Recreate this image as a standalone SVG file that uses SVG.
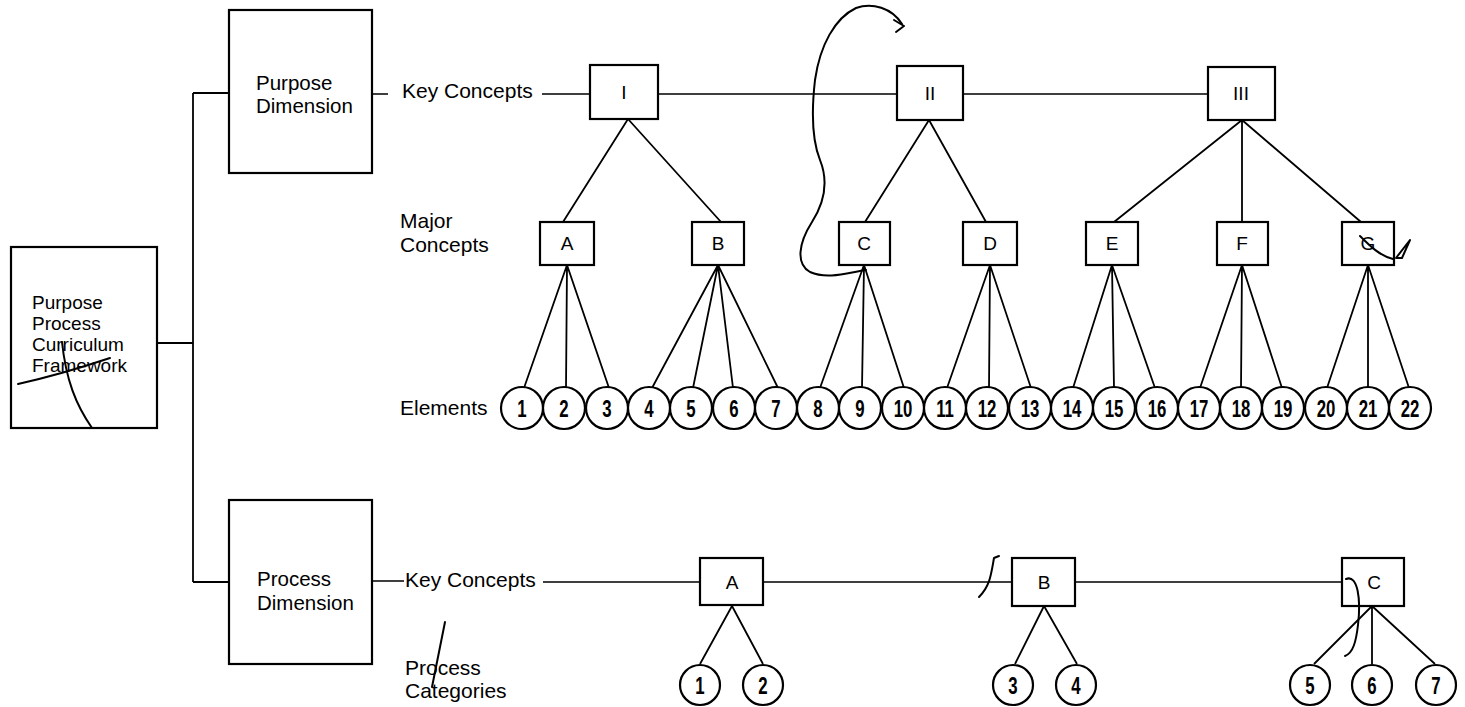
<svg xmlns="http://www.w3.org/2000/svg" width="1465" height="707" viewBox="0 0 1465 707">
<style>
.box{fill:#fff;stroke:#000;stroke-width:2.2}
.ln{fill:none;stroke:#000;stroke-width:1.8}
.thin{fill:none;stroke:#000;stroke-width:1.4}
.cir{fill:#fff;stroke:#000;stroke-width:2.2}
.lbl{font-family:"Liberation Sans",Arial,sans-serif;font-size:21px;fill:#000}
.bx{font-family:"Liberation Sans",Arial,sans-serif;font-size:20.5px;fill:#000}
.fw{font-family:"Liberation Sans",Arial,sans-serif;font-size:19px;fill:#000}
.num{font-family:"Liberation Sans",Arial,sans-serif;font-size:24px;font-weight:bold;fill:#000;text-anchor:middle}
.ltr{font-family:"Liberation Sans",Arial,sans-serif;font-size:19px;fill:#000;text-anchor:middle}
.pen{fill:none;stroke:#000;stroke-width:2;stroke-linecap:round;stroke-linejoin:round}
</style>
<rect width="1465" height="707" fill="#fff"/>

<g id="connectors">
  <path class="ln" d="M157,343 H193 M193,93 V582 M193,93 H229 M193,582 H229"/>
  <path class="thin" d="M372,94 H388 M542,94 H590 M658,94 H897 M963,94 H1208"/>
  <path class="ln" d="M628,119 L563,222 M628,119 L721,222"/>
  <path class="ln" d="M929,120 L865,222 M929,120 L986,222"/>
  <path class="ln" d="M1242,120 L1114,222 M1242,120 V222 M1242,120 L1361,222"/>
  <path class="ln" d="M567,265 L524,388 M567,265 L566,388 M567,265 L609,388"/>
  <path class="ln" d="M718,265 L652,388 M718,265 L693,388 M718,265 L733,388 M718,265 L778,388"/>
  <path class="ln" d="M864,265 L820,388 M864,265 L862,388 M864,265 L904,388"/>
  <path class="ln" d="M990,265 L947,388 M990,265 L989,388 M990,265 L1031,388"/>
  <path class="ln" d="M1112,265 L1073,388 M1112,265 L1114,388 M1112,265 L1155,388"/>
  <path class="ln" d="M1242,265 L1200,388 M1242,265 L1241,388 M1242,265 L1282,388"/>
  <path class="ln" d="M1368,265 L1327,388 M1368,265 L1368,388 M1368,265 L1409,388"/>
  <path class="thin" d="M372,581 H404 M543,582 H700 M763,582 H1012 M1075,582 H1342"/>
  <path class="ln" d="M732,606 L700,664 M732,606 L763,664"/>
  <path class="ln" d="M1044,606 L1015,664 M1044,606 L1077,664"/>
  <path class="ln" d="M1372,606 L1314,664 M1372,606 V664 M1372,606 L1435,664"/>
</g>

<g id="framework">
  <rect class="box" x="11" y="247" width="146" height="181"/>
  <text class="fw" x="32" y="309">Purpose</text>
  <text class="fw" x="32" y="330">Process</text>
  <text class="fw" x="32" y="351">Curriculum</text>
  <text class="fw" x="32" y="372">Framework</text>
</g>

<g id="purpose-dimension">
  <rect class="box" x="229" y="10" width="143" height="163"/>
  <text class="bx" x="256" y="90">Purpose</text>
  <text class="bx" x="256" y="113">Dimension</text>
</g>

<g id="process-dimension">
  <rect class="box" x="229" y="500" width="143" height="164"/>
  <text class="bx" x="257" y="586">Process</text>
  <text class="bx" x="257" y="610">Dimension</text>
</g>

<g id="labels">
  <text class="lbl" x="402" y="98">Key Concepts</text>
  <text class="lbl" x="400" y="228">Major</text>
  <text class="lbl" x="400" y="252">Concepts</text>
  <text class="lbl" x="400" y="415">Elements</text>
  <text class="lbl" x="405" y="587">Key Concepts</text>
  <text class="lbl" x="405" y="675">Process</text>
  <text class="lbl" x="405" y="698">Categories</text>
</g>

<g id="key-I"><rect class="box" x="590" y="65" width="68" height="54"/><text class="ltr" x="624" y="99">I</text></g>
<g id="key-II"><rect class="box" x="897" y="66" width="66" height="54"/><text class="ltr" x="930" y="100">II</text></g>
<g id="key-III"><rect class="box" x="1208" y="67" width="67" height="53"/><text class="ltr" x="1241" y="100">III</text></g>

<g id="major-A"><rect class="box" x="540" y="222" width="54" height="43"/><text class="ltr" x="567" y="250">A</text></g>
<g id="major-B"><rect class="box" x="692" y="222" width="52" height="43"/><text class="ltr" x="718" y="250">B</text></g>
<g id="major-C"><rect class="box" x="839" y="222" width="51" height="43"/><text class="ltr" x="864" y="250">C</text></g>
<g id="major-D"><rect class="box" x="963" y="222" width="54" height="43"/><text class="ltr" x="990" y="250">D</text></g>
<g id="major-E"><rect class="box" x="1086" y="222" width="52" height="43"/><text class="ltr" x="1112" y="250">E</text></g>
<g id="major-F"><rect class="box" x="1217" y="222" width="51" height="43"/><text class="ltr" x="1242" y="250">F</text></g>
<g id="major-G"><rect class="box" x="1342" y="222" width="52" height="43"/><text class="ltr" x="1368" y="250">G</text></g>

<g id="elements">
  <g id="el-1"><circle class="cir" cx="522" cy="408" r="21"/><text class="num" transform="translate(522,417) scale(0.7,1)">1</text></g>
  <g id="el-2"><circle class="cir" cx="564" cy="408" r="21"/><text class="num" transform="translate(564,417) scale(0.7,1)">2</text></g>
  <g id="el-3"><circle class="cir" cx="607" cy="408" r="21"/><text class="num" transform="translate(607,417) scale(0.7,1)">3</text></g>
  <g id="el-4"><circle class="cir" cx="649" cy="408" r="21"/><text class="num" transform="translate(649,417) scale(0.7,1)">4</text></g>
  <g id="el-5"><circle class="cir" cx="691" cy="408" r="21"/><text class="num" transform="translate(691,417) scale(0.7,1)">5</text></g>
  <g id="el-6"><circle class="cir" cx="734" cy="408" r="21"/><text class="num" transform="translate(734,417) scale(0.7,1)">6</text></g>
  <g id="el-7"><circle class="cir" cx="776" cy="408" r="21"/><text class="num" transform="translate(776,417) scale(0.7,1)">7</text></g>
  <g id="el-8"><circle class="cir" cx="818" cy="408" r="21"/><text class="num" transform="translate(818,417) scale(0.7,1)">8</text></g>
  <g id="el-9"><circle class="cir" cx="860" cy="408" r="21"/><text class="num" transform="translate(860,417) scale(0.7,1)">9</text></g>
  <g id="el-10"><circle class="cir" cx="903" cy="408" r="21"/><text class="num" transform="translate(903,417) scale(0.7,1)">10</text></g>
  <g id="el-11"><circle class="cir" cx="945" cy="408" r="21"/><text class="num" transform="translate(945,417) scale(0.7,1)">11</text></g>
  <g id="el-12"><circle class="cir" cx="987" cy="408" r="21"/><text class="num" transform="translate(987,417) scale(0.7,1)">12</text></g>
  <g id="el-13"><circle class="cir" cx="1030" cy="408" r="21"/><text class="num" transform="translate(1030,417) scale(0.7,1)">13</text></g>
  <g id="el-14"><circle class="cir" cx="1072" cy="408" r="21"/><text class="num" transform="translate(1072,417) scale(0.7,1)">14</text></g>
  <g id="el-15"><circle class="cir" cx="1114" cy="408" r="21"/><text class="num" transform="translate(1114,417) scale(0.7,1)">15</text></g>
  <g id="el-16"><circle class="cir" cx="1157" cy="408" r="21"/><text class="num" transform="translate(1157,417) scale(0.7,1)">16</text></g>
  <g id="el-17"><circle class="cir" cx="1199" cy="408" r="21"/><text class="num" transform="translate(1199,417) scale(0.7,1)">17</text></g>
  <g id="el-18"><circle class="cir" cx="1241" cy="408" r="21"/><text class="num" transform="translate(1241,417) scale(0.7,1)">18</text></g>
  <g id="el-19"><circle class="cir" cx="1283" cy="408" r="21"/><text class="num" transform="translate(1283,417) scale(0.7,1)">19</text></g>
  <g id="el-20"><circle class="cir" cx="1326" cy="408" r="21"/><text class="num" transform="translate(1326,417) scale(0.7,1)">20</text></g>
  <g id="el-21"><circle class="cir" cx="1368" cy="408" r="21"/><text class="num" transform="translate(1368,417) scale(0.7,1)">21</text></g>
  <g id="el-22"><circle class="cir" cx="1410" cy="408" r="21"/><text class="num" transform="translate(1410,417) scale(0.7,1)">22</text></g>
</g>

<g id="proc-A"><rect class="box" x="700" y="558" width="63" height="47"/><text class="ltr" x="732" y="589">A</text></g>
<g id="proc-B"><rect class="box" x="1012" y="558" width="63" height="48"/><text class="ltr" x="1044" y="589">B</text></g>
<g id="proc-C"><rect class="box" x="1342" y="558" width="62" height="48"/><text class="ltr" x="1374" y="589">C</text></g>

<g id="categories">
  <g id="cat-1"><circle class="cir" cx="700" cy="685" r="20"/><text class="num" transform="translate(700,694) scale(0.7,1)">1</text></g>
  <g id="cat-2"><circle class="cir" cx="763" cy="685" r="20"/><text class="num" transform="translate(763,694) scale(0.7,1)">2</text></g>
  <g id="cat-3"><circle class="cir" cx="1013" cy="685" r="20"/><text class="num" transform="translate(1013,694) scale(0.7,1)">3</text></g>
  <g id="cat-4"><circle class="cir" cx="1076" cy="685" r="20"/><text class="num" transform="translate(1076,694) scale(0.7,1)">4</text></g>
  <g id="cat-5"><circle class="cir" cx="1310" cy="685" r="20"/><text class="num" transform="translate(1310,694) scale(0.7,1)">5</text></g>
  <g id="cat-6"><circle class="cir" cx="1372" cy="685" r="20"/><text class="num" transform="translate(1372,694) scale(0.7,1)">6</text></g>
  <g id="cat-7"><circle class="cir" cx="1436" cy="685" r="20"/><text class="num" transform="translate(1436,694) scale(0.7,1)">7</text></g>
</g>

<g id="pen-marks">
  <path class="pen" d="M902,24 C892,8 872,2 856,8 C835,18 820,45 815,80 C811,115 812,140 820,160 C828,180 826,200 812,222 C798,244 796,264 810,272 C828,280 850,272 866,270"/>
  <path class="pen" d="M894,20 L904,26 L896,32"/>
  <path class="pen" d="M18,384 C45,378 80,368 110,358"/>
  <path class="pen" stroke-width="1.4" d="M62,342 C66,380 76,405 92,428"/>
  <path class="pen" stroke-width="4" d="M1360,236 C1370,246 1380,256 1393,259"/>
  <path class="pen" stroke-width="1.5" d="M1396,258 L1410,240 L1402,258 Z"/>
  <path class="pen" stroke-width="1.5" d="M1346,579 C1358,574 1361,600 1358,625 C1356,642 1353,653 1345,656"/>
  <path class="pen" stroke-width="1.5" d="M999,556 L994,558 C991,575 990,586 979,597"/>
  <path class="pen" stroke-width="1.3" d="M445,622 L432,687"/>
</g>
</svg>
